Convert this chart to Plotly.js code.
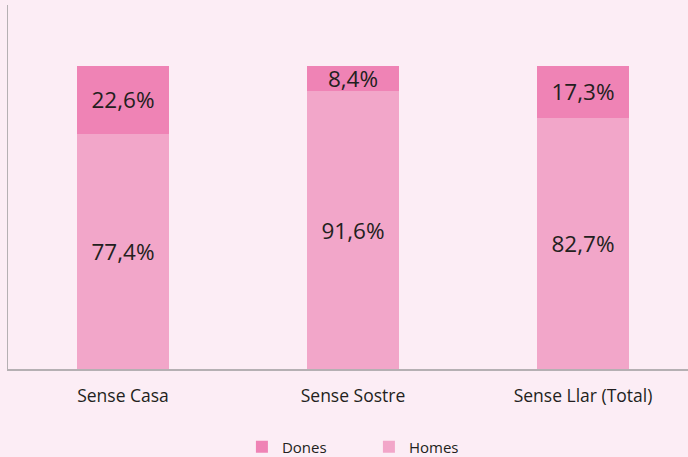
<!DOCTYPE html>
<html><head><meta charset="utf-8">
<script src="https://cdn.plot.ly/plotly-3.0.1.min.js"></script>
<style>body{margin:0;background:#fcedf5}</style>
</head><body>
<div id="chart" style="width:688px;height:457px"></div>
<script>
const categories = ["Sense Casa", "Sense Sostre", "Sense Llar (Total)"];
const homes = [77.4, 91.6, 82.7];
const dones = [22.6, 8.4, 17.3];

const txtFont = {family: "Open Sans, sans-serif", size: 22.5, color: "#231f20"};
const traces = [
  {type: "bar", name: "Homes", x: categories, y: homes, marker: {color: "#f2a6c9"},
   texttemplate: "%{y:.1f}%", textposition: "inside", insidetextanchor: "middle",
   constraintext: "none", textfont: txtFont, width: 0.4, hoverinfo: "none"},
  {type: "bar", name: "Dones", x: categories, y: dones, marker: {color: "#ef83b5"},
   texttemplate: "%{y:.1f}%", textposition: "inside", insidetextanchor: "middle",
   constraintext: "none", textfont: txtFont, width: 0.4, hoverinfo: "none"}
];
const layout = {
  width: 688, height: 457,
  barmode: "stack",
  separators: ",.",
  paper_bgcolor: "#fcedf5", plot_bgcolor: "#fcedf5",
  margin: {l: 8, r: 0, t: 5, b: 88, autoexpand: false},
  font: {family: "Open Sans, sans-serif", color: "#231f20"},
  xaxis: {range: [-0.5, 2.4565], showline: true, linecolor: "#b5b0b3", linewidth: 1.5,
          ticks: "", tickfont: {size: 17.5, color: "#231f20"}, ticklabelstandoff: 10,
          automargin: false, fixedrange: true},
  yaxis: {range: [0, 120], showline: true, linecolor: "#b5b0b3", linewidth: 1.5,
          showgrid: false, zeroline: false, showticklabels: false, ticks: "", automargin: false},
  showlegend: true,
  legend: {orientation: "h", x: 0.344, xanchor: "left", y: -0.214, yanchor: "middle",
           traceorder: "reversed", font: {size: 15, color: "#231f20"}, itemwidth: 30,
           entrywidth: 82, entrywidthmode: "pixels",
           bgcolor: "rgba(0,0,0,0)"},
  uniformtext: {mode: false}
};
Plotly.newPlot("chart", traces, layout, {displayModeBar: false, staticPlot: true});
</script>
</body></html>
